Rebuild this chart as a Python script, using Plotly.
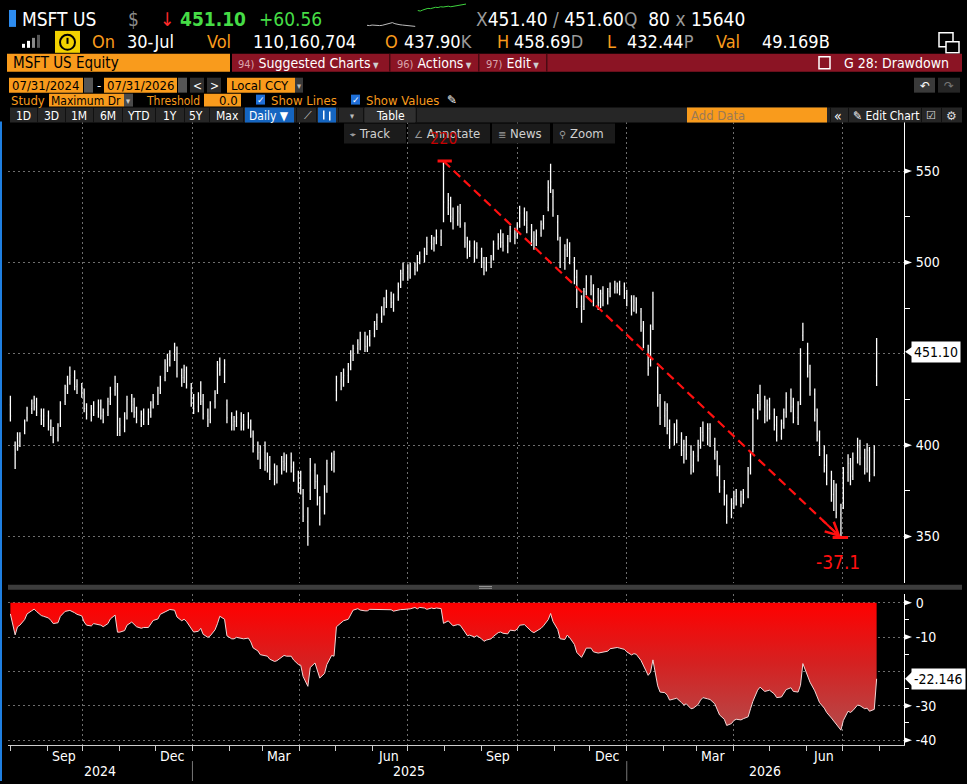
import pandas as pd
import plotly.graph_objects as go

W, H = 967, 784

# ---------------- price data: one OHLC bar every second trading day ----------------
open_ = [
    422,400,404,402,408,415,420,423,421,416,414,            # Aug 2024
    416,410,408,404,412,424,432,436,437,432,432,            # Sep 2024
    428,420,417,419,418,421,416,418,424,430,432,            # Oct 2024
    408,410,416,424,422,418,414,417,414,418,422,            # Nov 2024
    424,431,437,444,447,450,450,438,437,440,431,            # Dec 2024
    423,421,427,424,416,414,424,430,444,440,422,            # Jan 2025
    415,411,413,414,411,413,410,405,398,396,                # Feb 2025
    396,390,392,384,382,387,391,390,393,388,383,            # Mar 2025
    380,372,358,375,386,380,368,364,376,390,392,            # Apr 2025
    430,435,437,438,444,450,453,456,458,454,458,            # May 2025
    461,466,470,474,478,480,478,481,488,494,                # Jun 2025
    495,493,497,497,502,503,506,511,510,513,514,554,        # Jul 2025
    530,532,524,523,527,520,510,506,508,504,                # Aug 2025
    506,500,497,500,503,510,513,511,509,513,516,            # Sep 2025
    515,521,527,523,518,512,513,516,521,530,545,536,        # Oct 2025
    522,512,502,507,508,500,492,476,476,484,                # Nov 2025
    489,484,481,478,483,480,484,486,487,485,487,            # Dec 2025
    483,479,475,478,473,464,452,445,465,440,423,            # Jan 2026
    416,419,409,403,409,403,397,400,395,389,                # Feb 2026
    394,401,407,404,409,401,394,386,377,369,362,            # Mar 2026
    368,372,370,373,372,387,398,418,424,421,416,            # Apr 2026
    422,417,411,405,412,418,426,421,415,424,460,            # May 2026
    450,440,428,416,405,397,389,381,373,375,362,            # Jun 2026
    367,385,390,383,393,399,393,387,397,385,437.90,         # Jul 2026
]
high = [
    427,402,407,407,414,421,425,427,426,420,420,
    419,414,410,412,424,433,438,443,441,436,434,
    431,423,422,424,425,425,420,426,432,438,434,
    415,418,427,428,426,421,419,420,420,424,428,
    432,438,447,450,452,456,454,442,444,443,434,
    428,429,435,428,420,424,430,446,448,447,425,
    418,416,419,418,417,418,414,408,402,400,
    402,396,394,390,389,394,396,395,396,391,386,
    386,376,366,393,390,384,372,378,392,396,397,
    438,440,442,445,452,455,458,462,462,460,463,
    468,472,476,481,485,484,483,489,496,500,
    499,500,500,504,506,508,514,515,514,518,518,555.45,
    538,536,530,531,532,522,514,512,512,511,
    508,503,503,504,512,516,518,516,515,520,519,
    522,531,530,528,521,517,518,523,526,545,554,540,
    526,514,510,513,511,503,496,482,486,493,
    493,488,486,485,487,486,489,490,489,490,489,
    485,482,482,481,475,468,455,466,484,443,428,
    424,423,414,412,414,407,403,405,400,397,
    403,410,413,412,412,404,397,389,381,373,371,
    375,376,375,376,388,396,420,428,433,427,425,
    426,420,416,414,420,429,431,426,424,453,467,
    456,444,431,420,408,400,395,386,381,379,368,
    388,395,393,396,404,403,398,401,399,400,458.69,
]
low = [
    413,387,397,399,406,413,417,419,416,411,410,
    408,405,401,402,410,422,428,433,430,428,426,
    418,414,413,416,415,414,412,416,422,427,405,
    405,407,414,418,415,412,410,411,411,415,420,
    422,428,435,440,443,446,437,432,434,431,421,
    417,418,422,414,410,412,420,428,438,434,412,
    408,408,410,408,408,409,404,396,392,387,
    386,385,381,378,379,384,386,385,385,380,374,
    373,358,345,370,376,367,356,362,374,386,385,
    424,430,432,434,441,446,450,452,451,451,454,
    459,463,467,471,475,475,473,479,486,490,
    490,491,493,495,499,500,504,507,506,510,509,522,
    526,522,518,520,519,508,502,503,500,502,
    497,493,495,497,501,507,508,506,505,511,510,
    513,519,520,516,509,507,509,514,518,528,538,525,
    512,497,496,503,499,488,475,467,474,482,
    482,476,474,475,476,477,481,483,483,482,480,
    476,471,473,472,462,453,438,443,463,421,411,
    410,406,398,400,401,394,390,392,384,385,
    391,398,402,400,399,392,383,374,367,357,360,
    365,367,366,368,371,384,396,414,419,412,413,
    414,408,402,403,409,415,418,412,411,422,457,
    437,427,413,402,394,385,378,369,364,360,349.4,
    365,380,378,381,390,389,384,385,380,383,432.44,
]
close = [
    416,395,399,405,413,420,423,425,418,414,416,
    410,408,403,411,423,431,434,438,432,433,429,
    420,417,420,418,422,416,418,424,428,434,407,
    411,415,425,422,418,414,417,413,418,422,426,
    430,436,445,447,449,452,439,437,441,433,422,
    420,426,424,417,414,423,428,444,441,444,415,
    411,413,415,410,413,411,406,399,396,392,
    389,393,384,381,386,391,389,393,388,384,376,
    378,361,352,386,380,371,360,375,390,393,395,
    435,436,438,443,449,453,455,458,454,458,460,
    466,470,473,478,481,478,480,487,494,496,
    492,498,496,502,503,505,511,510,512,514,512,533,
    534,525,522,528,521,511,505,509,503,508,
    500,497,500,502,510,514,511,509,513,517,514,
    520,527,523,519,512,514,515,521,524,541,544,529,
    515,500,507,509,503,492,478,474,484,490,
    485,480,478,483,479,484,486,487,485,487,483,
    479,474,479,474,465,456,442,462,481,425,415,
    420,409,402,410,404,397,400,395,388,394,
    400,407,405,409,402,395,386,377,370,361,368,
    372,370,373,371,386,394,418,424,422,416,422,
    417,411,405,412,418,426,421,415,422,449,462,
    440,430,417,406,398,389,382,373,376,363,365,
    385,390,383,393,399,393,387,397,384,396,451.10,
]
last_date = "2026-07-30"

price_ticks = [350, 400, 450, 500, 550]
price_labels = ["350", "400", "", "500", "550"]
price_minor = [375, 425, 475, 525]
dd_ticks = [0, -10, -20, -30, -40]
dd_labels = ["0", "-10", "", "-30", "-40"]
dd_minor = [-5, -15, -25, -35]
month_labels = ["Sep", "Dec", "Mar", "Jun", "Sep", "Dec", "Mar", "Jun"]
month_label_dates = ["2024-09-15", "2024-12-15", "2025-03-15", "2025-06-15",
                     "2025-09-15", "2025-12-15", "2026-03-15", "2026-06-15"]
year_labels = ["2024", "2025", "2026"]
year_label_dates = ["2024-10-15", "2025-07-02", "2026-04-27"]
year_breaks = ["2025-01-01", "2026-01-01"]
quarter_lines = ["2024-10-01", "2025-01-01", "2025-04-01", "2025-07-01",
                 "2025-10-01", "2026-01-01", "2026-04-01", "2026-07-01"]
spark_prev = [0.17, 0.16, 0.18, 0.17, 0.15, 0.16, 0.17, 0.19, 0.21, 0.25, 0.27,
              0.23, 0.2, 0.19, 0.18, 0.17, 0.16, 0.15, 0.14, 0.13]
spark_today = [0.72, 0.7, 0.74, 0.78, 0.8, 0.79, 0.82, 0.84, 0.83, 0.86, 0.85,
               0.87, 0.88, 0.86, 0.88, 0.9, 0.92, 0.93, 0.95, 0.96]

# ---------------- derived series (the Maximum Drawdown study) ----------------
n = len(close)
dates = pd.bdate_range(end=last_date, periods=2 * n - 1)[::2]
df = pd.DataFrame({"o": open_, "h": high, "l": low, "c": close}, index=dates)
dd = (df["l"] / df["h"].cummax() - 1) * 100
peak_date = df["h"].idxmax()
peak_val = df["h"].max()
trough_date = dd.idxmin()
trough_val = df.loc[trough_date, "l"]
mdd = dd.min()

# ---------------- helpers ----------------
FONT = "'Liberation Sans Narrow', 'Arial Narrow', 'DejaVu Sans Condensed', 'DejaVu Sans', sans-serif"
ORANGE = "#f99b1c"
GRID = "#6e6e6e"
X0, X1 = 8, 904
xr = ["2024-07-30", "2026-08-22"]


def px(x):
    return x / W


def py(y):
    return 1 - y / H


shapes, ann = [], []


def rect(x0, y0, x1, y1, fill, line=None):
    shapes.append(dict(type="rect", xref="paper", yref="paper", x0=px(x0), x1=px(x1),
                       y0=py(y1), y1=py(y0), fillcolor=fill, layer="above",
                       line=line if line else dict(width=0)))


def txt(x, y, s, color="white", size=13, anchor="left", family=FONT):
    ann.append(dict(xref="paper", yref="paper", x=px(x), y=py(y), text=s, showarrow=False,
                    xanchor=anchor, yanchor="middle", borderpad=0,
                    font=dict(color=color, size=size, family=family)))


def g(s):
    return f"<span style='color:#9a9a9a'>{s}</span>"


# ---------------- header ----------------
rect(9, 10, 16, 27, "#2d8cf0")
txt(21, 19, "MSFT US", size=19)
txt(127, 19, "$", "#8a8a8a", 19)
txt(159, 19, "↓", "#ff2a2a", 19)
txt(179, 19, "<b>451.10</b>", "#46dc46", 19)
txt(258, 19, "+60.56", "#46dc46", 19)
txt(475, 19, g("X") + "451.40" + g(" / ") + "451.60" + g("Q") + "  80 " + g("x") + " 15640", size=19)

# row 2
for (a, b, c, col) in [(22, 44, 25, "white"), (27, 41, 30, "white"), (32, 38, 35, "#8a8a8a"), (37, 35, 40, "#555555")]:
    rect(a, b, c, 48, col)
rect(55, 31, 80, 53, "#f2d200")
shapes.append(dict(type="circle", xref="paper", yref="paper", x0=px(60), x1=px(75), y0=py(50), y1=py(35),
                   line=dict(color="black", width=2), layer="above"))
rect(66.5, 38, 68.5, 44, "black")
txt(91, 42, "On", ORANGE, 18)
txt(126, 42, "30-Jul", size=18)
txt(206, 42, "Vol", ORANGE, 18)
txt(252, 42, "110,160,704", size=18)
txt(384, 42, "O", ORANGE, 18)
txt(403, 42, "437.90" + g("K"), size=18)
txt(496, 42, "H", ORANGE, 18)
txt(513, 42, "458.69" + g("D"), size=18)
txt(606, 42, "L", ORANGE, 18)
txt(626, 42, "432.44" + g("P"), size=18)
txt(715, 42, "Val", ORANGE, 18)
txt(761, 42, "49.169B", size=18)
rect(939, 33, 953, 47, "black", dict(color="white", width=1.5))
rect(946, 42, 959, 53, "black", dict(color="white", width=1.5))

# row 3
rect(7, 54, 230, 72, ORANGE)
txt(12, 63.5, "MSFT US Equity", "black", 15)
rect(232, 54, 962, 72, "#8b1424")
for sx in (389, 478, 546):
    rect(sx, 54, sx + 1.5, 72, "#4a0a12")
dim = "<span style='color:#d9a3ab;font-size:11px'>{}</span>"
arr = "<span style='color:#cfcfcf;font-size:8px'> ▼</span>"
txt(237, 63.5, dim.format("94)") + " Suggested Charts" + arr, size=14)
txt(396, 63.5, dim.format("96)") + " Actions" + arr, size=14)
txt(485, 63.5, dim.format("97)") + " Edit" + arr, size=14)
rect(819, 57, 830, 69, "#8b1424", dict(color="white", width=1.5))
txt(843, 63.5, "G 28: Drawdown", size=14)

# row 4
rect(9, 78, 83, 93, ORANGE)
txt(11, 86, "07/31/2024", "black", 13)
rect(84, 78, 93, 93, "#555555")
txt(96, 86, "-", size=13)
rect(104, 78, 177, 93, ORANGE)
txt(106, 86, "07/31/2026", "black", 13)
rect(178, 78, 187, 93, "#555555")
rect(190, 78, 204, 93, "#2e2e2e")
txt(197, 86, "<", size=12, anchor="center")
rect(207, 78, 221, 93, "#2e2e2e")
txt(214, 86, ">", size=12, anchor="center")
rect(227, 78, 295, 93, ORANGE)
txt(230, 86, "Local CCY", "black", 13)
rect(295, 78, 303, 93, "#3a3a3a")
txt(299, 86, "▾", "#bbbbbb", 9, anchor="center")
rect(914, 78, 935, 93, "#3a3a3a")
txt(924.5, 86, "↶", size=12, anchor="center", family="DejaVu Sans")
rect(938, 78, 960, 93, "#262626")
txt(949, 86, "↷", "#777777", 12, anchor="center", family="DejaVu Sans")

# row 5
txt(10, 101, "Study", ORANGE, 13)
rect(49, 94, 124, 107, ORANGE)
txt(50, 101, "Maximum Dr", "black", 12)
rect(124, 94, 133, 107, "#4a4a4a")
txt(128.5, 101, "▾", "#cccccc", 9, anchor="center")
txt(145, 101, "Threshold", ORANGE, 12)
rect(204, 94, 241, 107, ORANGE)
txt(239, 101, "0.0", "black", 13, anchor="right")
for cx, lab in ((256, "Show Lines"), (351, "Show Values")):
    rect(cx, 95, cx + 9, 105, "#1e6fd9")
    txt(cx + 4.5, 100, "✓", "white", 9, anchor="center", family="DejaVu Sans")
    txt(cx + 14, 101, lab, ORANGE, 13)
txt(446, 100, "✎", "white", 12, family="DejaVu Sans")

# row 6
rect(10, 108, 962, 123, "#262626")
for bx, lab in ((23, "1D"), (51, "3D"), (79, "1M"), (108, "6M"), (138, "YTD"), (170, "1Y"), (196, "5Y"), (227, "Max")):
    txt(bx, 116, lab, size=12, anchor="center")
for sx in (37, 65, 93, 122, 155, 184, 209, 243, 296, 316, 338, 363, 416, 830, 848, 921, 941):
    rect(sx, 108, sx + 1, 123, "#111111")
rect(245, 108, 294, 123, "#1565c0")
txt(269, 116, "Daily ▼", size=12, anchor="center")
txt(308, 115.5, "⟋", "#cccccc", 11, anchor="center", family="DejaVu Sans")
rect(318, 108, 336, 123, "#1565c0")
rect(323, 111, 324.5, 120, "white")
rect(329, 112, 330.5, 121, "white")
txt(352, 116, "▾", "#bbbbbb", 9, anchor="center")
rect(365, 108, 415, 123, "#303030")
txt(390, 116, "Table", size=12, anchor="center")
rect(687, 108, 827, 123, ORANGE)
txt(690, 116, "Add Data", "#9c7a55", 13)
txt(838, 116, "«", size=14, anchor="center")
txt(852, 116, "✎ Edit Chart", size=12)
txt(931, 116, "☑", "#dddddd", 11, anchor="center", family="DejaVu Sans")
txt(951, 116, "⚙", "#dddddd", 12, anchor="center", family="DejaVu Sans")

# floating chart toolbar
for a, b in ((344, 406), (408, 490), (492, 550), (553, 615)):
    rect(a, 124, b, 144, "#1b1b1b")
TB = "#d0d0d0"
ic = "<span style='font-family:DejaVu Sans;font-size:10px;color:#999'>{}</span> "
txt(349, 134, ic.format("⌖") + "Track", TB, 13)
txt(413, 134, ic.format("∠") + "Annotate", TB, 13)
txt(497, 134, ic.format("≣") + "News", TB, 13)
txt(558, 134, ic.format("⚲") + "Zoom", TB, 13)

# left blue border, divider between panels
rect(0, 122, 2, 784, "#1f7fe0")
rect(8, 587, 962, 592, "#3c3c3c")
rect(479, 588.3, 492, 589.1, "#aaaaaa")
rect(479, 590.1, 492, 590.9, "#aaaaaa")

# arrow-shaped major ticks on both value axes
for v in price_ticks:
    if v != 450:
        shapes.append(dict(type="path", xref="paper", yref="y", layer="above",
                           path=f"M {px(904)},{v + 1.6} L {px(912)},{v} L {px(904)},{v - 1.6} Z",
                           fillcolor="white", line=dict(width=0)))
for v in dd_ticks:
    if v != -20:
        shapes.append(dict(type="path", xref="paper", yref="y2", layer="above",
                           path=f"M {px(904)},{v + 0.85} L {px(912)},{v} L {px(904)},{v - 0.85} Z",
                           fillcolor="white", line=dict(width=0)))

# ---------------- drawdown study marks (from data) ----------------
red = "#ff1010"
shapes.append(dict(type="line", xref="x", yref="y", x0=peak_date - pd.Timedelta(days=5),
                   x1=peak_date + pd.Timedelta(days=7), y0=peak_val, y1=peak_val,
                   line=dict(color=red, width=3), layer="above"))
shapes.append(dict(type="line", xref="x", yref="y", x0=trough_date - pd.Timedelta(days=7),
                   x1=trough_date + pd.Timedelta(days=6), y0=trough_val, y1=trough_val,
                   line=dict(color=red, width=3), layer="above"))
span_days = (trough_date - peak_date)
ax_date = trough_date - span_days * 0.05
ay_val = trough_val + (peak_val - trough_val) * 0.05
ann.append(dict(xref="x", yref="y", x=trough_date, y=trough_val, axref="x", ayref="y",
                ax=ax_date, ay=ay_val, showarrow=True, arrowhead=5, arrowsize=1.3,
                arrowwidth=2, arrowcolor=red, text=""))
ann.append(dict(xref="x", yref="y", x=trough_date, y=trough_val, yshift=-24, xshift=-3,
                text=f"{mdd:.1f}", showarrow=False,
                font=dict(color=red, size=19, family=FONT)))
ann.append(dict(xref="x", yref="y", x=peak_date, y=peak_val, yshift=23,
                text="220", showarrow=False,
                font=dict(color="#c40000", size=16, family=FONT)))

# last value markers
last_px = df["c"].iloc[-1]
last_dd = dd.iloc[-1]
for yref, yv, label, dy in (("y", last_px, f"{last_px:.2f}", 2.6), ("y2", last_dd, f"{last_dd:.3f}", 2.0)):
    ann.append(dict(xref="paper", yref=yref, x=px(911), y=yv, text=label, showarrow=False,
                    xanchor="left", yanchor="middle", bgcolor="white", borderpad=2,
                    font=dict(color="black", size=14, family=FONT)))
    shapes.append(dict(type="path", xref="paper", yref=yref, layer="above",
                       path=f"M {px(905)},{yv} L {px(912)},{yv + dy} L {px(912)},{yv - dy} Z",
                       fillcolor="white", line=dict(width=0)))

# x axis labels
lab_font = dict(color="white", size=14, family=FONT)
for d, lab in zip(month_label_dates, month_labels):
    ann.append(dict(xref="x2", yref="paper", x=d, y=py(759), text=lab, showarrow=False,
                    xanchor="center", yanchor="middle", font=lab_font))
for d, lab in zip(year_label_dates, year_labels):
    ann.append(dict(xref="x2", yref="paper", x=d, y=py(774), text=lab, showarrow=False,
                    xanchor="center", yanchor="middle", font=lab_font))
for d in year_breaks:
    shapes.append(dict(type="line", xref="x2", yref="paper", x0=d, x1=d, y0=py(764), y1=py(784),
                       line=dict(color="#777777", width=1), layer="above"))

# ---------------- traces ----------------
fig = go.Figure()
fig.add_trace(go.Ohlc(x=dates, open=df["o"], high=df["h"], low=df["l"], close=df["c"],
                      increasing=dict(line=dict(color="white", width=1.3)),
                      decreasing=dict(line=dict(color="white", width=1.3)),
                      tickwidth=0.3, xaxis="x", yaxis="y", hoverinfo="skip"))
fig.add_trace(go.Scatter(x=[peak_date, trough_date], y=[peak_val, trough_val], mode="lines",
                         line=dict(color=red, width=2.2, dash="9px,5px"), xaxis="x", yaxis="y",
                         hoverinfo="skip"))
fig.add_trace(go.Scatter(x=dates, y=dd, mode="lines", line=dict(color="#f2d6d6", width=1),
                         fill="tozeroy",
                         fillgradient=dict(type="vertical", start=-40, stop=0,
                                           colorscale=[[0, "#b05050"], [0.55, "#d42222"], [1, "#ff0000"]]),
                         xaxis="x2", yaxis="y2", hoverinfo="skip"))
fig.add_trace(go.Scatter(x=list(range(len(spark_prev))), y=spark_prev, mode="lines",
                         line=dict(color="#bdbdbd", width=1), xaxis="x3", yaxis="y3", hoverinfo="skip"))
fig.add_trace(go.Scatter(x=list(range(len(spark_prev), len(spark_prev) + len(spark_today))), y=spark_today,
                         mode="lines", line=dict(color="#3ed23e", width=1), xaxis="x3", yaxis="y3",
                         hoverinfo="skip"))

tickfont = dict(color="white", size=14, family=FONT)
fig.update_layout(
    width=W, height=H, margin=dict(l=0, r=0, t=0, b=0),
    paper_bgcolor="black", plot_bgcolor="black", showlegend=False,
    xaxis=dict(domain=[px(X0), px(X1)], range=xr, type="date", anchor="y",
               tickvals=quarter_lines, showticklabels=False, ticks="",
               showgrid=True, gridcolor=GRID, griddash="2px,3px", gridwidth=1,
               zeroline=False, showline=False, rangeslider=dict(visible=False)),
    yaxis=dict(domain=[py(585), py(122)], range=[324.7, 577.1], side="right", anchor="x",
               tickvals=price_ticks, ticktext=price_labels, ticks="outside", ticklen=8,
               tickcolor="rgba(0,0,0,0)", tickwidth=1, showline=True, linecolor="white", linewidth=1,
               showgrid=True, gridcolor=GRID, griddash="2px,3px", zeroline=False,
               minor=dict(tickvals=price_minor, ticks="outside", ticklen=5, tickcolor="white", showgrid=False),
               tickfont=tickfont),
    xaxis2=dict(domain=[px(X0), px(X1)], range=xr, type="date", anchor="y2",
                tickvals=quarter_lines, showticklabels=False, ticks="outside", ticklen=5,
                tickcolor="#cccccc", showline=True, linecolor="#cccccc", linewidth=1,
                showgrid=True, gridcolor=GRID, griddash="2px,3px", zeroline=False,
                minor=dict(dtick="M1", tick0="2024-08-01", ticks="outside", ticklen=5,
                           tickcolor="#cccccc", showgrid=False)),
    yaxis2=dict(domain=[py(748), py(596)], range=[-41.45, 2.6], side="right", anchor="x2",
                tickvals=dd_ticks, ticktext=dd_labels, ticks="outside", ticklen=8,
                tickcolor="rgba(0,0,0,0)", tickwidth=1, showline=True, linecolor="white", linewidth=1,
                showgrid=True, gridcolor=GRID, griddash="2px,3px", zeroline=False,
                minor=dict(tickvals=dd_minor, ticks="outside", ticklen=4, tickcolor="white", showgrid=False),
                tickfont=tickfont),
    xaxis3=dict(domain=[px(367), px(466)], range=[0, len(spark_prev) + len(spark_today) - 1],
                anchor="y3", visible=False),
    yaxis3=dict(domain=[py(30), py(3)], range=[0, 1], anchor="x3", visible=False),
    shapes=shapes, annotations=ann,
)

fig.write_html("out.html", config={"displayModeBar": False},
               post_script="document.body.style.margin='0';document.body.style.overflow='hidden';")
